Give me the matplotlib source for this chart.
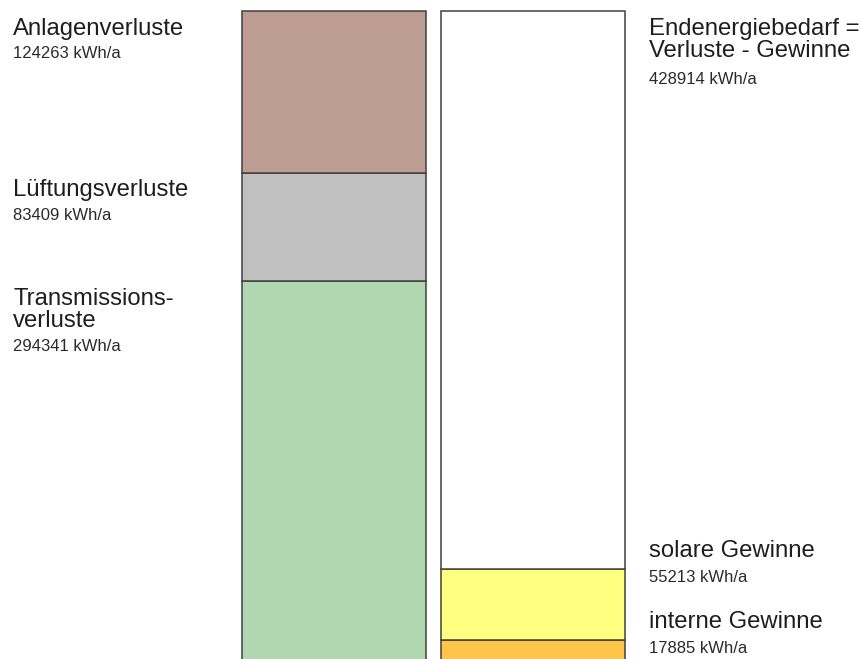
import matplotlib.pyplot as plt
from matplotlib import transforms

plt.rcParams["font.family"] = ["Liberation Sans", "DejaVu Sans"]

# Verluste (linke Säule, von unten nach oben)
verluste_namen = ["Transmissions-\nverluste", "Lüftungsverluste", "Anlagenverluste"]
verluste_werte = [294341, 83409, 124263]
verluste_farben = ["#b1d7b0", "#c0c0c0", "#bd9d91"]

# Gewinne + Endenergie (rechte Säule, von unten nach oben)
bilanz_namen = ["interne Gewinne", "solare Gewinne", "Endenergiebedarf =\nVerluste - Gewinne"]
bilanz_werte = [17885, 55213, 428914]
bilanz_farben = ["#ffc548", "#ffff80", "#ffffff"]

einheit = "kWh/a"

W, H = 861, 659
fig = plt.figure(figsize=(W / 100, H / 100), dpi=100)

gesamt = sum(verluste_werte)
px_pro_wert = 652.7 / gesamt
ax = fig.add_axes([242 / W, (H - 11 - gesamt * px_pro_wert) / H, 383 / W, gesamt * px_pro_wert / H])

breite = 0.925
ax.set_xlim(-breite / 2, 1 + breite / 2)
ax.set_ylim(0, gesamt)
ax.axis("off")

kante = "#404040"


def saeule(x, werte, farben):
    unten = 0
    oberkanten = []
    for w, f in zip(werte, farben):
        ax.bar(x, w, bottom=unten, width=breite, color=f, edgecolor=kante,
               linewidth=1.1, clip_on=False)
        unten += w
        oberkanten.append(unten)
    return oberkanten


links_oben = saeule(0, verluste_werte, verluste_farben)
rechts_oben = saeule(1, bilanz_werte, bilanz_farben)

trans = transforms.blended_transform_factory(fig.transFigure, ax.transData)
pt = 0.72  # px -> pt bei 100 dpi


def beschriftung(x_px, y_wert, name, wert, erste_px, wert_abstand):
    y_px = erste_px
    for zeile in name.split("\n"):
        ax.annotate(zeile, xy=(x_px / W, y_wert), xycoords=trans,
                    xytext=(0, -y_px * pt), textcoords="offset points",
                    ha="left", va="baseline", fontsize=17.2, color="#1e1e1e",
                    annotation_clip=False)
        y_px += 22.5
    y_px += wert_abstand - 22.5
    ax.annotate(f"{wert} {einheit}", xy=(x_px / W, y_wert), xycoords=trans,
                xytext=(0, -y_px * pt), textcoords="offset points",
                ha="left", va="baseline", fontsize=12, color="#2a2a2a",
                annotation_clip=False)


for name, wert, oben in zip(verluste_namen, verluste_werte, links_oben):
    beschriftung(13, oben, name, wert, 23.5, 24)

for i, (name, wert, oben) in enumerate(zip(bilanz_namen, bilanz_werte, rechts_oben)):
    if i == len(bilanz_werte) - 1:
        beschriftung(649, oben, name, wert, 23.5, 27)
    else:
        beschriftung(649, oben, name, wert, -12, 25)

fig.savefig("out.png", dpi=100)
